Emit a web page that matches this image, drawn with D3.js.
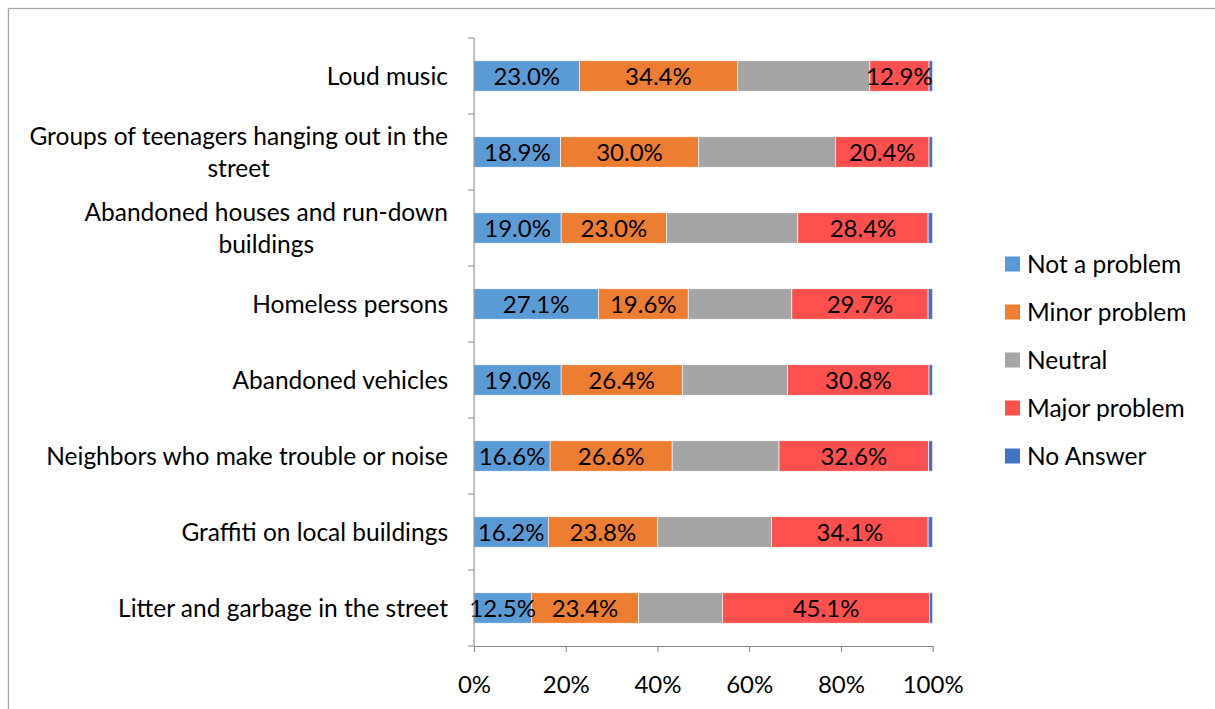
<!DOCTYPE html>
<html>
<head>
<meta charset="utf-8">
<script src="https://cdn.jsdelivr.net/npm/d3@7"></script>
<style>
  html, body { margin: 0; padding: 0; background: #fff; }
  svg { display: block; }
  text { font-family: Lato, "Open Sans", sans-serif; fill: #000; }
</style>
</head>
<body>
<svg id="chart" width="1215" height="709"></svg>
<script>
const categories = [
  ["Loud music"],
  ["Groups of teenagers hanging out in the", "street"],
  ["Abandoned houses and run-down", "buildings"],
  ["Homeless persons"],
  ["Abandoned vehicles"],
  ["Neighbors who make trouble or noise"],
  ["Graffiti on local buildings"],
  ["Litter and garbage in the street"]
];
const seriesNames = ["Not a problem", "Minor problem", "Neutral", "Major problem", "No Answer"];
const seriesColors = ["#5B9BD5", "#ED7D31", "#A5A5A5", "#FF5050", "#4472C4"];
const notAProblem  = [23.0, 18.9, 19.0, 27.1, 19.0, 16.6, 16.2, 12.5];
const minorProblem = [34.4, 30.0, 23.0, 19.6, 26.4, 26.6, 23.8, 23.4];
const neutral      = [28.9, 29.9, 28.6, 22.6, 23.0, 23.3, 24.9, 18.3];
const majorProblem = [12.9, 20.4, 28.4, 29.7, 30.8, 32.6, 34.1, 45.1];
const noAnswer     = [0.8, 0.8, 1.0, 1.0, 0.8, 0.9, 1.0, 0.7];
const labelledSeries = [true, true, false, true, false];
const xTicks = [0, 20, 40, 60, 80, 100];

const seriesValues = [notAProblem, minorProblem, neutral, majorProblem, noAnswer];
const rows = categories.map((c, i) => {
  const r = { key: i };
  seriesNames.forEach((s, j) => { r[s] = seriesValues[j][i]; });
  return r;
});

const svg = d3.select("#chart");
const axisColor = "#868686";
const catFont = 24.5;
const valFont = 24;
const tickFont = 24;

// outer chart border
svg.append("rect").attr("x", 8.5).attr("y", 8.5).attr("width", 1220).attr("height", 720)
  .attr("fill", "none").attr("stroke", "#a6a6a6").attr("stroke-width", 1.3);

const x = d3.scaleLinear().domain([0, 100]).range([474, 932.7]);
const y = d3.scaleBand().domain(d3.range(categories.length)).range([38, 646])
  .paddingInner(0.6).paddingOuter(0.3);

const stack = d3.stack().keys(seriesNames)(rows);

const g = svg.append("g");
stack.forEach((layer, si) => {
  const lg = g.append("g");
  lg.selectAll("rect").data(layer).enter().append("rect")
    .attr("x", d => x(d[0]))
    .attr("y", d => y(d.data.key))
    .attr("width", d => x(d[1]) - x(d[0]))
    .attr("height", y.bandwidth())
    .attr("fill", seriesColors[si])
    .attr("stroke", "#ffffff").attr("stroke-width", 0.6);
});
stack.forEach((layer, si) => {
  if (!labelledSeries[si]) return;
  g.append("g").selectAll("text").data(layer).enter().append("text")
    .attr("x", d => (x(d[0]) + x(d[1])) / 2)
    .attr("y", d => y(d.data.key) + y.bandwidth() / 2)
    .attr("dy", "0.36em")
    .attr("text-anchor", "middle")
    .attr("font-size", valFont)
    .text(d => (d[1] - d[0]).toFixed(1) + "%");
});

// Y axis line and ticks at band boundaries
const step = y.step();
const yTop = y.range()[0], yBot = y.range()[1];
svg.append("line").attr("x1", x(0)).attr("x2", x(0)).attr("y1", yTop).attr("y2", yBot)
  .attr("stroke", axisColor).attr("stroke-width", 1);
d3.range(categories.length + 1).forEach(i => {
  const yy = yTop + i * step;
  svg.append("line").attr("x1", x(0) - 6).attr("x2", x(0)).attr("y1", yy).attr("y2", yy)
    .attr("stroke", axisColor).attr("stroke-width", 1);
});

// Category labels
categories.forEach((lines, i) => {
  const cy = y(i) + y.bandwidth() / 2;
  const lh = 32;
  const t = svg.append("text").attr("font-size", catFont).attr("text-anchor", "end");
  if (lines.length === 1) {
    t.append("tspan").attr("x", 448).attr("y", cy).attr("dy", "0.36em").text(lines[0]);
  } else {
    t.attr("text-anchor", "middle");
    const tmp = svg.append("text").attr("font-size", catFont).text(lines[0]);
    const w = tmp.node().getComputedTextLength();
    tmp.remove();
    const cx = 448 - w / 2;
    lines.forEach((ln, k) => {
      t.append("tspan").attr("x", cx)
        .attr("y", cy + (k - (lines.length - 1) / 2) * lh)
        .attr("dy", "0.36em").text(ln);
    });
  }
});

// X axis
const xAxis = d3.axisBottom(x).tickValues(xTicks).tickFormat(d => d + "%").tickSize(6).tickSizeOuter(0);
const xg = svg.append("g").attr("transform", `translate(0,${yBot})`).call(xAxis);
xg.select(".domain").attr("stroke", axisColor);
xg.selectAll(".tick line").attr("stroke", axisColor);
xg.selectAll(".tick text").attr("font-size", tickFont).attr("font-family", "Lato, 'Open Sans', sans-serif")
  .attr("fill", "#000").attr("y", 38).attr("dy", "0.36em");

// Legend
const legend = svg.append("g");
seriesNames.forEach((s, i) => {
  const ly = 264 + i * 48;
  legend.append("rect").attr("x", 1005).attr("y", ly - 7.5).attr("width", 15).attr("height", 15)
    .attr("fill", seriesColors[i]);
  legend.append("text").attr("x", 1027).attr("y", ly).attr("dy", "0.36em")
    .attr("font-size", catFont).text(s);
});
</script>
</body>
</html>
